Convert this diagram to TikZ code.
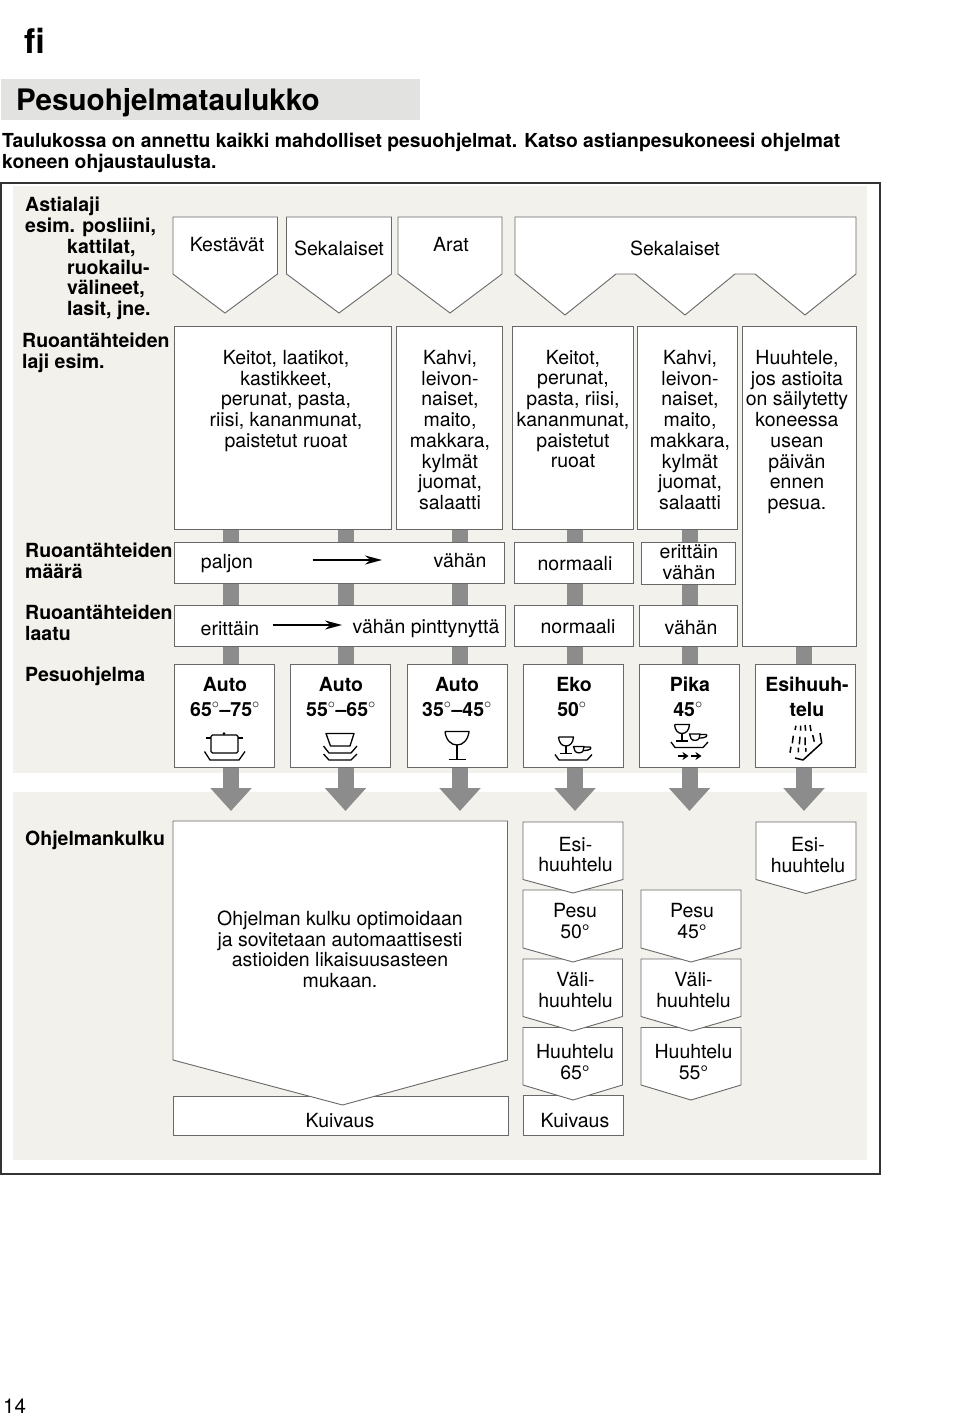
\documentclass[tikz,border=0pt]{standalone}
\usepackage{fontspec}
\setmainfont{TeX Gyre Heros}
\usetikzlibrary{arrows.meta,backgrounds}

\definecolor{panel}{HTML}{F3F1EB}
\definecolor{band}{HTML}{E2E2E0}
\definecolor{stemgray}{HTML}{8C8C8C}
\definecolor{edge}{HTML}{686868}

\tikzset{
  box/.style={draw=edge, line width=0.9pt, fill=white, inner sep=0pt, outer sep=0pt},
  pent/.style={draw=edge, line width=0.9pt, fill=white, line join=miter},
  lbl/.style={inner sep=0pt, font=\fontsize{19.5}{20.7}\selectfont, text height=16pt, text depth=2pt},
  blk/.style={inner sep=0pt, align=center, font=\fontsize{19.5}{20.7}\selectfont},
  side/.style={inner sep=0pt, anchor=west, font=\fontsize{19.5}{20.7}\selectfont\bfseries, text height=16pt, text depth=2pt},
  prog/.style={inner sep=0pt, font=\fontsize{19.5}{20.7}\selectfont\bfseries, text height=16pt, text depth=2pt},
  stem/.style={draw=stemgray, line width=16pt},
  thin arrow/.style={draw=black, line width=1.6pt, -{Stealth[length=17pt,width=9pt]}},
  icon/.style={draw=black, line width=1.3pt, line join=round}
}

% box from corner to corner
\newcommand{\boxnode}[5]{\node[box, minimum width={(#4-#2)*1pt}, minimum height={(#5-#3)*1pt}] (#1) at ({(#2+#4)/2},{(#3+#5)/2}) {};}
% x1, x2, top, shoulder, tip x, tip y
\newcommand{\pentagon}[6]{\draw[pent] (#1,#3) -- (#2,#3) -- (#2,#4) -- (#5,#6) -- (#1,#4) -- cycle;}
\newcommand{\glasscup}[2]{
\begin{scope}[shift={(#1,#2)}]
\draw[icon] (558.5,737) -- (573.5,737) .. controls (573,743) and (570,746) .. (566,746) .. controls (562,746) and (559,743) .. (558.5,737);
\draw[icon] (566,746) -- (566,753.5) (560,753.5) -- (572,753.5);
\draw[icon] (573.5,746.5) -- (584,746.5) -- (583,751) .. controls (582,753.5) and (576,753.5) .. (575,751) -- cycle;
\draw[icon] (584,747) -- (590,747) .. controls (592,748) and (591,750.5) .. (583,750.5);
\draw[icon] (555,754.5) -- (559,760) -- (587,760) -- (592,754.5);
\end{scope}}

\begin{document}
\begin{tikzpicture}[x=1pt, y=-1pt]
\useasboundingbox (0,0) rectangle (960,1416);

\node[inner sep=0pt, anchor=west, font=\fontsize{34}{36}\selectfont\bfseries] (lang) at (24,41) {fi};
\node[fill=band, minimum width=419pt, minimum height=41pt, inner sep=0pt] (titleband) at (210.5,99.5) {};
\node[inner sep=0pt, anchor=west, font=\fontsize{29.6}{31}\selectfont\bfseries] (title) at (16,103) {Pesuohjelmataulukko};
\node[inner sep=0pt, anchor=west, align=left, font=\fontsize{19.3}{21}\selectfont\bfseries] (intro) at (2,152.5) {Taulukossa on annettu kaikki mahdolliset pesuohjelmat. Katso astianpesukoneesi ohjelmat\\koneen ohjaustaulusta.};
\node[inner sep=0pt, anchor=west, font=\fontsize{20.5}{21}\selectfont] (pageno) at (3,1406) {14};

\node[draw=black!80, line width=1.5pt, minimum width=879pt, minimum height=991pt, inner sep=0pt] (frame) at (440.5,678.5) {};

% dish types
\pentagon{173}{277.5}{217}{274}{225}{313}
\pentagon{286.5}{391.5}{217}{274}{339}{313}
\pentagon{398}{502}{217}{274}{450}{313}
\draw[pent] (515,217) -- (856,217) -- (856,274) -- (805,315) -- (755,274) -- (735,274) -- (685,315) -- (635,274) -- (616,274) -- (565,315) -- (515,274) -- cycle;
\node[lbl] (dish1) at (227,244) {Kestävät};
\node[lbl] (dish2) at (339,248) {Sekalaiset};
\node[lbl] (dish3) at (451,244) {Arat};
\node[lbl] (dish4) at (675,248) {Sekalaiset};

% food
\boxnode{food1}{174.5}{326.5}{391}{529}
\boxnode{food2}{396}{326.5}{502}{529}
\boxnode{food3}{512.5}{326.5}{633}{529}
\boxnode{food4}{637}{326.5}{737.5}{529}
\boxnode{food5}{742}{326.5}{856}{646}
\node[blk] (foodtxt1) at (286,401) {Keitot, laatikot,\\kastikkeet,\\perunat, pasta,\\riisi, kananmunat,\\paistetut ruoat};
\node[blk] (foodtxt2) at (450,430) {Kahvi,\\leivon-\\naiset,\\maito,\\makkara,\\kylmät\\juomat,\\salaatti};
\node[blk] (foodtxt3) at (573,409) {Keitot,\\perunat,\\pasta, riisi,\\kananmunat,\\paistetut\\ruoat};
\node[blk] (foodtxt4) at (690,430) {Kahvi,\\leivon-\\naiset,\\maito,\\makkara,\\kylmät\\juomat,\\salaatti};
\node[blk] (foodtxt5) at (797,432) {Huuhtele,\\jos astioita\\on säilytetty\\koneessa\\usean\\päivän\\ennen\\pesua.};

% amount and soil
\boxnode{amount1}{174.5}{542}{504}{583}
\boxnode{amount2}{514}{542}{633.5}{583.5}
\boxnode{amount3}{641}{542}{735}{584}
\boxnode{soil1}{174.5}{605}{505}{646}
\boxnode{soil2}{514.5}{605}{633.5}{646}
\boxnode{soil3}{639}{605}{737.5}{646}
\node[lbl] (paljon) at (227,561) {paljon};
\node[lbl] (vahan1) at (460,560) {vähän};
\node[lbl] (norm1) at (575,563) {normaali};
\node[blk] (evahan) at (689,562.5) {erittäin\\vähän};
\node[lbl] (erittain) at (230,628) {erittäin};
\node[lbl] (pinttynyt) at (426,626) {vähän pinttynyttä};
\node[lbl] (norm2) at (578,626) {normaali};
\node[lbl] (vahan2) at (691,627) {vähän};
\coordinate (am1) at (312.5,560);
\coordinate (am2) at (382,560);
\coordinate (so1) at (272.5,625);
\coordinate (so2) at (342,625);
\draw[thin arrow] (am1) -- (am2);
\draw[thin arrow] (so1) -- (so2);

% programmes
\boxnode{prog1}{174.5}{664}{274.5}{767}
\boxnode{prog2}{290.5}{664}{390.5}{767}
\boxnode{prog3}{407}{664}{507}{767}
\boxnode{prog4}{523}{664}{623}{767}
\boxnode{prog5}{639.5}{664}{739.5}{767}
\boxnode{prog6}{755.5}{664}{855.5}{767}
\node[prog] (name1) at (225,684) {Auto};
\node[prog] (temp1) at (225,709) {65$^\circ$--75$^\circ$};
\node[prog] (name2) at (341,684) {Auto};
\node[prog] (temp2) at (341,709) {55$^\circ$--65$^\circ$};
\node[prog] (name3) at (457,684) {Auto};
\node[prog] (temp3) at (457,709) {35$^\circ$--45$^\circ$};
\node[prog] (name4) at (574,684) {Eko};
\node[prog] (temp4) at (572,709) {50$^\circ$};
\node[prog] (name5) at (690,684) {Pika};
\node[prog] (temp5) at (688,709) {45$^\circ$};
\node[prog] (name6) at (807,684) {Esihuuh-};
\node[prog] (temp6) at (807,709) {telu};

% pot
\draw[icon, rounded corners=1.5pt] (211,735) rectangle (238,753);
\draw[icon] (206,738) -- (211,738) (238,738) -- (243,738);
\fill (224,733.5) circle (1.5pt);
\draw[icon] (204.5,751.5) -- (210,760) -- (239,760) -- (245,751.5);
% plates
\draw[icon] (326,733.5) -- (354,733.5) -- (350,746) -- (330.5,746) -- cycle;
\draw[icon] (323.5,746) -- (329,753) -- (351,753) -- (357,746);
\draw[icon] (323.5,754) -- (329,760) -- (351,760) -- (357,754);
% glass
\draw[icon] (445,731.5) -- (469,731.5) .. controls (468,740) and (463,745) .. (457,745) .. controls (451,745) and (446,740) .. (445,731.5);
\draw[icon] (457,745) -- (457,759.5) (448.5,759.5) -- (465.5,759.5);
% glass and cup
\glasscup{0}{0}
\glasscup{116}{-12.5}
\draw[icon, -{Stealth[length=6pt,width=8pt]}] (677.5,756) -- (688.5,756);
\draw[icon, -{Stealth[length=6pt,width=8pt]}] (690.5,756) -- (701.5,756);
% spray
\draw[icon, line width=1.5pt] (795,758) -- (803,760) -- (821.7,743) -- (820,733);
\draw[icon, line width=1.5pt] (795,730) -- (796,725.7) (800.7,730.7) -- (800.7,725.7) (805.7,730.7) -- (805,725) (811,731) -- (810,725);
\draw[icon, line width=1.5pt] (792.3,743.3) -- (793.3,735.7) (799.3,744.3) -- (800,736.7) (805,745) -- (805,737.3) (814.3,741.7) -- (812.7,735);
\draw[icon, line width=1.5pt] (790,752.7) -- (791,746.7) (798.3,752.3) -- (798.3,747.7) (806,751.7) -- (805.7,748);

% side labels
\node[side] (s1) at (25,204) {Astialaji};
\node[side] (s2) at (25,225) {esim. posliini,};
\node[side] (s3) at (67,246) {kattilat,};
\node[side] (s4) at (67,267) {ruokailu-};
\node[side] (s5) at (67,287.5) {välineet,};
\node[side] (s6) at (67,308) {lasit, jne.};
\node[side] (s7) at (22,340) {Ruoantähteiden};
\node[side] (s8) at (22,361) {laji esim.};
\node[side] (s9) at (25,550) {Ruoantähteiden};
\node[side] (s10) at (25,571) {määrä};
\node[side] (s11) at (25,612) {Ruoantähteiden};
\node[side] (s12) at (25,633) {laatu};
\node[side] (s13) at (25,674) {Pesuohjelma};
\node[side] (s14) at (25,838) {Ohjelmankulku};

% programme flow, lowest first
\boxnode{dry1}{173.5}{1096}{508}{1135}
\node[lbl] (drytxt1) at (340,1120) {Kuivaus};
\pentagon{173}{507.5}{821}{1060}{342.5}{1105}
\node[blk] (flowtxt) at (340,949.5) {Ohjelman kulku optimoidaan\\ja sovitetaan automaattisesti\\astioiden likaisuusasteen\\mukaan.};

\boxnode{dry2}{523}{1095.5}{623}{1135.5}
\node[lbl] (drytxt2) at (575,1120) {Kuivaus};
\pentagon{523}{622.5}{1027.5}{1085}{573}{1100}
\pentagon{523}{622.5}{959}{1016.5}{573}{1031}
\pentagon{523}{622.5}{890}{948}{573}{962}
\pentagon{523}{623}{822}{879.5}{573}{893}
\node[blk] (a1) at (575.5,854.5) {Esi-\\huuhtelu};
\node[blk] (a2) at (575,921) {Pesu\\50°};
\node[blk] (a3) at (575.5,990) {Väli-\\huuhtelu};
\node[blk] (a4) at (575,1062) {Huuhtelu\\65°};

\pentagon{641}{741}{1027.5}{1085}{691}{1100}
\pentagon{641}{741}{959}{1016.5}{691}{1031}
\pentagon{641}{741}{890}{948}{691}{962}
\node[blk] (b2) at (692,921) {Pesu\\45°};
\node[blk] (b3) at (693.5,990) {Väli-\\huuhtelu};
\node[blk] (b4) at (693.5,1062) {Huuhtelu\\55°};

\pentagon{756}{856}{822}{879.5}{806}{893.5}
\node[blk] (c1) at (808,855) {Esi-\\huuhtelu};

% panels and grey stems go behind everything
\begin{scope}[on background layer]
\fill[panel] (13,186) rectangle (867,773);
\fill[panel] (13,792) rectangle (867,1160);
\foreach \i/\x/\f in {1/231/food1,2/345.5/food1,3/460/food2,4/575/food3,5/689.5/food4,6/804/food5} {
  \coordinate (col\i) at (\x,811);
  \draw[stem] (\f.south -| col\i) -- (prog\i.north -| col\i);
  \draw[stem, -{Triangle[width=40pt,length=23pt]}] (prog\i.south -| col\i) -- (col\i);
}
\end{scope}

\end{tikzpicture}
\end{document}
